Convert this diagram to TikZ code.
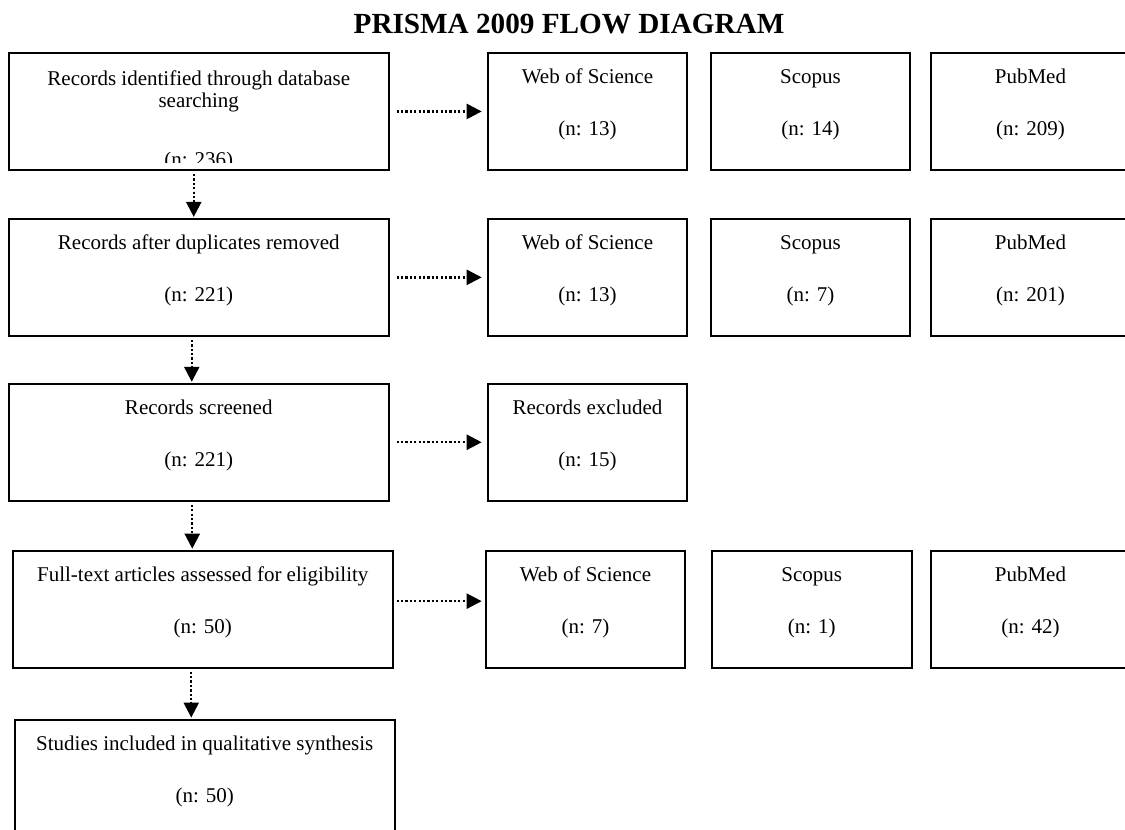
\documentclass[tikz,border=0pt]{standalone}
\usepackage{fontspec}
\setmainfont{Liberation Serif}
\usepackage{trimclip}
\usetikzlibrary{positioning,arrows.meta}
\newcommand{\boxtext}[2]{\rule{0pt}{15.5pt}#1\\[15pt]#2\rule[-17pt]{0pt}{0pt}}

\begin{document}
\begin{tikzpicture}[x=0.5pt, y=-0.5pt, node distance=23.5pt and 48.6pt,
                   box/.style={draw, line width=0.95pt, inner xsep=2pt, inner ysep=0pt,
                               minimum height=58.5pt, align=center,
                               font=\fontsize{10.5}{11}\selectfont},
                   stagebox/.style={box, minimum width=189.8pt},
                   srcbox/.style={box, minimum width=99.8pt},
                   flow/.style={line width=1.15pt, dash pattern=on 1.15pt off 1.05pt,
                                -{Triangle[length=7.5pt,width=7.5pt]}}]
    \useasboundingbox (0,0) rectangle (1125,830);
    \clip (0,0) rectangle (1125,830);
    \node[font=\bfseries\fontsize{14.6}{17}\selectfont, anchor=base] (title) at (569,33) {PRISMA 2009 FLOW DIAGRAM};
    \node[stagebox, anchor=north west] (rec) at (8,52)
        {\rule{0pt}{16.5pt}Records identified through database\\searching\\[16.5pt]\clipbox{0pt 4.2pt 0pt 0pt}{(n: 236)}\rule[-3.5pt]{0pt}{0pt}};
    \node[srcbox, right=of rec]          (wos1) {\boxtext{Web of Science}{(n: 13)}};
    \node[srcbox, right=10.8pt of wos1]  (sco1) {\boxtext{Scopus}{(n: 14)}};
    \node[srcbox, right=9.2pt of sco1]   (pub1) {\boxtext{PubMed}{(n: 209)}};
    \node[stagebox, below=of rec]        (dup)  {\boxtext{Records after duplicates removed}{(n: 221)}};
    \node[srcbox, right=of dup]          (wos2) {\boxtext{Web of Science}{(n: 13)}};
    \node[srcbox, right=10.8pt of wos2]  (sco2) {\boxtext{Scopus}{(n: 7)}};
    \node[srcbox, right=9.2pt of sco2]   (pub2) {\boxtext{PubMed}{(n: 201)}};
    \node[stagebox, below=23pt of dup]   (scr)  {\boxtext{Records screened}{(n: 221)}};
    \node[srcbox, right=of scr]          (exc)  {\boxtext{Records excluded}{(n: 15)}};
    \node[stagebox, below=24pt of scr, xshift=2pt] (full) {\boxtext{Full-text articles assessed for eligibility}{(n: 50)}};
    \node[srcbox, right=45.6pt of full]  (wos4) {\boxtext{Web of Science}{(n: 7)}};
    \node[srcbox, right=12.4pt of wos4]  (sco4) {\boxtext{Scopus}{(n: 1)}};
    \node[srcbox, right=8.6pt of sco4]   (pub4) {\boxtext{PubMed}{(n: 42)}};
    \node[stagebox, below=25pt of full, xshift=1pt] (inc) {\boxtext{Studies included in qualitative synthesis}{(n: 50)}};
    \draw[flow, shorten <=3.5pt, shorten >=2.5pt] (rec.east) -- (wos1.west);
    \draw[flow, shorten <=3.5pt, shorten >=2.5pt] (dup.east) -- (wos2.west);
    \draw[flow, shorten <=3.5pt, shorten >=2.5pt] (scr.east) -- (exc.west);
    \draw[flow, shorten <=1.5pt, shorten >=1.5pt] ([yshift=4pt]full.east) -- ([yshift=4pt]wos4.west);
    \draw[flow, shorten <=1.5pt, shorten >=0.5pt] ([xshift=-2.5pt]rec.south) -- ([xshift=-2.5pt]dup.north);
    \draw[flow, shorten <=1.5pt, shorten >=0.5pt] ([xshift=-3.5pt]dup.south) -- ([xshift=-3.5pt]scr.north);
    \draw[flow, shorten <=1.5pt, shorten >=0.5pt] ([xshift=-3.25pt]scr.south) -- ([xshift=-5.25pt]full.north);
    \draw[flow, shorten <=1.5pt, shorten >=0.5pt] ([xshift=-5.75pt]full.south) -- ([xshift=-6.75pt]inc.north);
\end{tikzpicture}
\end{document}
